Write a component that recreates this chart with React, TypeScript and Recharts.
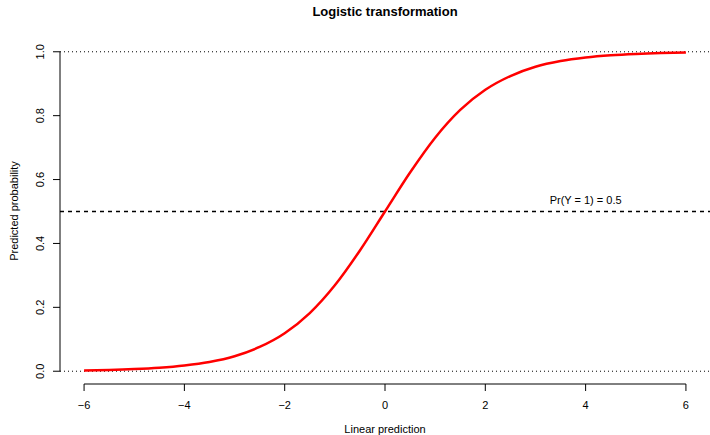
import { ComposedChart, Line, XAxis, YAxis, ReferenceLine, ReferenceDot } from "recharts";

// values
const linearPrediction = [
  -6, -5.5, -5, -4.5, -4, -3.5, -3, -2.5, -2, -1.5, -1, -0.5, 0,
  0.5, 1, 1.5, 2, 2.5, 3, 3.5, 4, 4.5, 5, 5.5, 6,
];
const predictedProb = [
  0.0025, 0.004, 0.0067, 0.011, 0.018, 0.029, 0.047, 0.076, 0.119, 0.182, 0.269, 0.378, 0.5,
  0.622, 0.731, 0.818, 0.881, 0.924, 0.953, 0.971, 0.982, 0.989, 0.9933, 0.996, 0.9975,
];
const xTicks = [-6, -4, -2, 0, 2, 4, 6];
const yTicks = [0, 0.2, 0.4, 0.6, 0.8, 1];
const yTickLabels = ["0.0", "0.2", "0.4", "0.6", "0.8", "1.0"];

const data = linearPrediction.map((x, i) => ({ x, p: predictedProb[i] }));

const FONT = "'Liberation Sans', Arial, Helvetica, sans-serif";

const XTick = (props: any) => {
  const { x, y, payload } = props;
  return (
    <text x={x} y={y + 12} textAnchor="middle" dominantBaseline="central" fontSize={11} fill="#000" fontFamily={FONT}>
      {String(payload.value).replace("-", "\u2212")}
    </text>
  );
};

const YTick = (props: any) => {
  const { y, payload } = props;
  const idx = yTicks.indexOf(payload.value);
  return (
    <text
      x={40}
      y={y}
      transform={`rotate(-90 40 ${y})`}
      textAnchor="middle"
      dominantBaseline="central"
      fontSize={11}
      fill="#000"
      fontFamily={FONT}
    >
      {yTickLabels[idx]}
    </text>
  );
};

export default function App() {
  return (
    <div style={{ position: "absolute", left: 0, top: 0, width: 710, height: 435, background: "#fff", fontFamily: FONT, overflow: "hidden" }}>
      <div style={{ position: "absolute", top: 4, left: 60, width: 650, textAlign: "center", fontWeight: "bold", fontSize: 13 }}>
        Logistic transformation
      </div>
      <div style={{ position: "absolute", top: 423, left: 60, width: 650, textAlign: "center", fontSize: 11 }}>
        Linear prediction
      </div>
      <div
        style={{
          position: "absolute",
          left: 14,
          top: 211,
          fontSize: 11,
          whiteSpace: "nowrap",
          transform: "translate(-50%, -50%) rotate(-90deg)",
        }}
      >
        Predicted probability
      </div>
      <ComposedChart width={710} height={435} data={data} margin={{ top: 39, right: 0, bottom: 0, left: 0 }}>
        <XAxis
          dataKey="x"
          type="number"
          domain={[-6.48, 6.48]}
          ticks={xTicks}
          axisLine={false}
          tickLine={{ stroke: "#000" }}
          tickSize={7}
          height={51}
          tick={<XTick />}
          allowDataOverflow
        />
        <YAxis
          type="number"
          domain={[-0.04, 1.04]}
          ticks={yTicks}
          axisLine={false}
          tickLine={{ stroke: "#000" }}
          tickSize={7}
          width={60}
          tick={<YTick />}
          allowDataOverflow
        />
        <ReferenceLine segment={[{ x: -6, y: -0.04 }, { x: 6, y: -0.04 }]} stroke="#000" strokeWidth={1} />
        <ReferenceLine segment={[{ x: -6.48, y: 0 }, { x: -6.48, y: 1 }]} stroke="#000" strokeWidth={1} />
        <ReferenceLine y={0} stroke="#000" strokeDasharray="1 3" />
        <ReferenceLine y={1} stroke="#000" strokeDasharray="1 3" />
        <ReferenceLine y={0.5} stroke="#000" strokeWidth={1.3} strokeDasharray="4 4" />
        <ReferenceDot
          x={4}
          y={0.535}
          r={0}
          shape={(p: any) => (
            <text x={p.cx} y={p.cy} textAnchor="middle" dominantBaseline="central" fontSize={11} fill="#000" fontFamily={FONT}>
              Pr(Y = 1) = 0.5
            </text>
          )}
        />
        <Line
          dataKey="p"
          type="monotone"
          stroke="#ff0000"
          strokeWidth={2.5}
          dot={false}
          isAnimationActive={false}
        />
      </ComposedChart>
    </div>
  );
}
